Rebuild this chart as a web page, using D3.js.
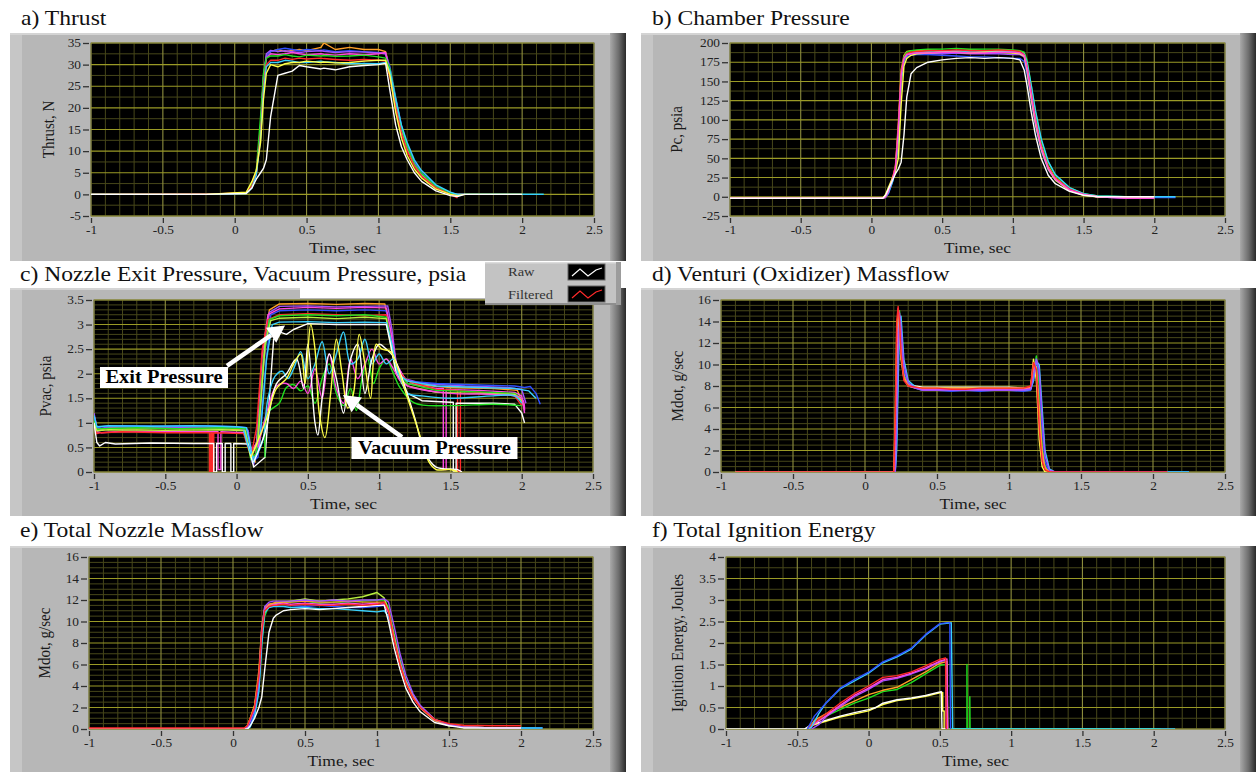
<!DOCTYPE html>
<html><head><meta charset="utf-8">
<script src="https://cdn.jsdelivr.net/npm/d3@7/dist/d3.min.js"></script>
<style>
html,body{margin:0;padding:0;background:#fff;}
svg{display:block;}
text{font-family:"Liberation Serif","Times New Roman",Times,serif;}
</style></head><body>
<svg id="chart" width="1256" height="772"></svg>
<script>
// ---------- shared axis data ----------
const timeTicks = [-1, -0.5, 0, 0.5, 1, 1.5, 2, 2.5];
const timeTickLabels = ["-1", "-0.5", "0", "0.5", "1", "1.5", "2", "2.5"];
const palette = {white:"#ffffff", red:"#ff2a2a", green:"#20e020", blue:"#3050ff", yellow:"#ffff4a",
  cyan:"#38d0ff", magenta:"#ff48e0", orange:"#ffa028", purple:"#a050ff", lime:"#b8f040"};

// ---------- a) Thrust ----------
const thrustTicks = [-5, 0, 5, 10, 15, 20, 25, 30, 35];
const thrustTickLabels = ["-5", "0", "5", "10", "15", "20", "25", "30", "35"];
const thrustTime = [-1,-0.2,0.08,0.12,0.15,0.18,0.2,0.22,0.25,0.3,0.35,0.4,0.45,0.5,0.6,0.62,0.7,0.8,0.9,1.0,1.05,1.08,1.12,1.16,1.2,1.25,1.3,1.4,1.5,1.55,1.6,2.0,2.15];
const thrustOrange = [0,0,0.4,2.5,5,15,27,32,33,33.5,33,33.3,33.5,33.2,34,35,33.5,34,33.5,33.5,33,29,22,15.5,11,7,4.6,1.7,0.2,0,0,null,null];
const thrustBlue = [0,0,0.3,2,5,16,27,32,33,33.5,33.8,33.5,33.2,33.5,33.3,33.4,33,33.2,33,32.8,32.5,29.5,22.5,16,11.5,7.5,5,2,0.4,0,0,0,0];
const thrustPurple = [0,0,0.3,2,4.8,15,27,32.5,33.3,33,33.2,33,32.8,33,33.2,33.1,32.8,33,32.9,32.7,32.5,28.5,21.5,15,10.8,7,4.5,1.7,0.2,0,0,null,null];
const thrustMagenta = [0,0,0.3,2,5,15,26,31.5,32.5,32.3,32.5,32.8,32.5,32.3,32.5,32.4,32.2,32.5,32.3,32.5,32.8,28,21,15,10.5,7,4.5,1.6,0.2,0,0,null,null];
const thrustGreen = [0,0,0.3,2.5,5.5,18,28,31.5,32,32,32.3,32,31.8,32.2,32,32.1,31.9,32,32.2,31.8,31.5,29,22,15.5,11,7,4.8,1.8,0.3,0,0,0,0];
const thrustRed = [0,0.1,0.3,2,5,14,25,30,31,31,31.5,31.2,31.5,31.3,31.5,31.4,31.2,31,31.2,31,30.8,27,20,14,10,6.5,4.2,1.5,0,-0.8,null,null,null];
const thrustCyan = [0,0,0.2,1.5,4.5,13,24,29.5,30.5,30.5,31,30.8,30.5,30.5,30.8,30.7,30.5,30.2,30.3,30.2,30.5,28.5,22,16,12,8,5.5,2.2,0.5,0,0,0,0];
const thrustYellow = [0,0,0.5,3,5.5,12,22,28,30,29.5,30.2,30.5,30.5,30.8,30.5,30.6,30.4,30.5,30.8,31,31,27.5,19,13,9,5.8,3.8,1.2,0,-0.3,0,0,null];
const thrustWhite = [0,0,0.2,1.5,3.5,5,6,8,18,27.5,28,28.5,29.8,29.5,29,29.2,28.8,29.5,29.8,30,30.3,24,16,11,8,5,3,0.8,-0.3,-0.5,0,0,null];

// ---------- b) Chamber Pressure ----------
const chamberTicks = [-25, 0, 25, 50, 75, 100, 125, 150, 175, 200];
const chamberTickLabels = ["-25", "0", "25", "50", "75", "100", "125", "150", "175", "200"];
const chamberTime = [-1,0.08,0.1,0.12,0.15,0.17,0.19,0.21,0.23,0.25,0.28,0.32,0.4,0.5,0.6,0.7,0.8,0.9,1.0,1.05,1.08,1.1,1.13,1.16,1.2,1.25,1.3,1.4,1.5,1.6,1.8,2.0,2.15];
const chamberBlue = [-2,-2,-1,4,20,35,80,150,176,182,184,185,185,184,183,182,182,181,180,180,176,160,125,92,60,35,22,9,3,0,-1,-1,-1];
const chamberPurple = [-2,-2,0,6,22,36,82,155,178,184,186,187,187,186,187,186,186,186,185,185,182,166,130,96,63,37,23,9,3,0,-2,-2,null];
const chamberOrange = [-2,-2,1,8,24,40,95,165,184,189,190,190,191,190,190,191,190,190,190,189,187,172,138,104,68,40,25,10,3,0,0,0,null];
const chamberGreen = [-2,-2,0,6,22,38,85,155,182,188,190,191,192,192,193,192,192,192,191,190,188,178,145,110,74,45,28,12,4,1,0,0,null];
const chamberCyan = [-2,-2,0,5,20,35,75,150,178,185,187,188,189,189,190,189,189,189,189,188,186,175,145,112,76,46,29,12,4,1,0,0,0];
const chamberRed = [-2,-2,0,8,25,40,90,160,180,186,188,189,190,190,191,190,190,191,190,189,185,170,135,100,65,38,24,10,3,0,0,0,null];
const chamberYellow = [-2,-2,3,12,25,33,50,120,170,180,184,186,187,188,188,187,188,188,187,186,183,165,128,95,62,36,22,8,2,0,0,0,null];
const chamberMagenta = [-2,-2,0,7,23,38,88,158,180,185,186,187,187,188,188,187,187,188,188,187,184,168,132,98,64,37,23,9,3,0,-2,-2,null];
const chamberWhite = [-2,-2,2,10,22,30,36,45,80,130,160,168,175,178,180,181,180,181,180,178,165,145,110,80,50,28,17,7,2,0,0,0,null];

// ---------- c) Nozzle exit / vacuum pressure ----------
const nozzleTicks = [0, 0.5, 1, 1.5, 2, 2.5, 3, 3.5];
const nozzleTickLabels = ["0", "0.5", "1", "1.5", "2", "2.5", "3", "3.5"];
const exitOrange = [[-1,1.15],[-0.98,0.9],[-0.95,0.86],[-0.9,0.9],[-0.7,0.88],[-0.4,0.9],[-0.1,0.88],[0.05,0.86],[0.1,0.5],[0.13,0.2],[0.17,1.5],[0.2,2.7],[0.23,3.3],[0.3,3.42],[0.5,3.43],[0.7,3.41],[0.9,3.43],[1.04,3.42],[1.07,3.0],[1.1,2.3],[1.15,1.95],[1.25,1.78],[1.5,1.72],[1.8,1.7],[1.97,1.66],[2.02,1.3]];
const exitPurple = [[-1,1.2],[-0.98,0.92],[-0.95,0.88],[-0.9,0.92],[-0.6,0.9],[-0.3,0.91],[0,0.9],[0.08,0.85],[0.12,0.15],[0.15,0.6],[0.19,2.2],[0.23,3.25],[0.3,3.37],[0.5,3.38],[0.7,3.36],[0.9,3.37],[1.06,3.38],[1.09,2.9],[1.12,2.2],[1.18,1.9],[1.3,1.8],[1.6,1.75],[1.9,1.72],[2.0,1.68],[2.03,1.4]];
const exitBlue = [[-1,1.1],[-0.98,0.9],[-0.95,0.92],[-0.8,0.94],[-0.5,0.93],[-0.2,0.94],[0,0.92],[0.07,0.9],[0.11,0.2],[0.15,0.3],[0.2,2.0],[0.24,3.2],[0.3,3.28],[0.5,3.3],[0.7,3.28],[0.9,3.3],[1.05,3.28],[1.08,2.8],[1.12,2.1],[1.2,1.85],[1.4,1.8],[1.7,1.77],[1.95,1.75],[2.02,1.72],[2.06,1.74],[2.1,1.6],[2.13,1.38]];
const exitMagenta = [[-1,1.0],[-0.98,0.82],[-0.95,0.8],[-0.8,0.83],[-0.5,0.82],[-0.13,0.82],[-0.13,0.05],[-0.11,0.05],[-0.11,0.82],[0.05,0.8],[0.1,0.4],[0.14,0.6],[0.18,2.4],[0.22,3.2],[0.3,3.32],[0.5,3.35],[0.7,3.33],[0.9,3.35],[1.05,3.34],[1.08,2.9],[1.12,2.2],[1.2,1.8],[1.4,1.7],[1.45,1.7],[1.45,0.05],[1.47,0.05],[1.47,1.68],[1.7,1.66],[1.95,1.62],[2.0,1.55],[2.02,1.2]];
const exitRed = [[-1,0.95],[-0.98,0.78],[-0.95,0.8],[-0.8,0.82],[-0.5,0.8],[-0.19,0.8],[-0.19,0],[-0.18,0],[-0.18,0.8],[-0.17,0.8],[-0.17,0],[-0.16,0],[-0.16,0.8],[0.05,0.78],[0.1,0.3],[0.14,0.9],[0.18,2.5],[0.22,3.1],[0.3,3.2],[0.5,3.22],[0.7,3.2],[0.9,3.18],[1.05,3.2],[1.08,2.7],[1.12,2.1],[1.2,1.85],[1.4,1.68],[1.55,1.66],[1.55,0.02],[1.57,0.02],[1.57,1.65],[1.8,1.6],[1.95,1.55],[2.0,1.35]];
const exitGreen = [[-1,1.05],[-0.98,0.86],[-0.95,0.88],[-0.7,0.9],[-0.4,0.88],[-0.1,0.9],[0.06,0.88],[0.1,0.25],[0.14,0.4],[0.19,2.3],[0.23,3.1],[0.3,3.18],[0.5,3.2],[0.7,3.18],[0.9,3.2],[1.05,3.15],[1.08,2.7],[1.12,2.05],[1.2,1.8],[1.4,1.66],[1.7,1.63],[1.95,1.6],[2.0,1.5]];
const exitLime = [[-1,1.0],[-0.98,0.84],[-0.9,0.86],[-0.5,0.85],[-0.1,0.86],[0.06,0.84],[0.1,0.3],[0.15,0.6],[0.2,2.6],[0.24,3.08],[0.3,3.13],[0.5,3.15],[0.7,3.12],[0.9,3.15],[1.05,3.12],[1.08,2.6],[1.12,2.0],[1.2,1.75],[1.4,1.62],[1.7,1.6],[1.95,1.58],[2.0,1.45]];
const exitCyan = [[-1,1.15],[-0.98,0.92],[-0.9,0.94],[-0.6,0.93],[-0.3,0.94],[0,0.92],[0.07,0.9],[0.12,0.2],[0.16,0.5],[0.21,2.3],[0.25,3.0],[0.3,3.05],[0.5,3.06],[0.7,3.04],[0.9,3.05],[1.05,3.04],[1.09,2.6],[1.13,2.0],[1.2,1.85],[1.4,1.75],[1.7,1.72],[1.95,1.7],[2.05,1.65],[2.1,1.5]];
const exitWhite = [[-1,1.0],[-0.98,0.6],[-0.96,0.53],[-0.92,0.6],[-0.85,0.57],[-0.6,0.59],[-0.3,0.58],[-0.16,0.58],[-0.16,0],[-0.14,0],[-0.14,0.58],[-0.1,0.58],[-0.1,0],[-0.08,0],[-0.08,0.58],[-0.04,0.58],[-0.04,0],[-0.02,0],[-0.02,0.58],[0.08,0.57],[0.12,0.1],[0.2,0.3],[0.23,1.5],[0.26,2.7],[0.3,2.85],[0.35,2.8],[0.4,2.9],[0.5,3.02],[0.7,3.0],[0.9,3.0],[1.05,3.0],[1.08,2.6],[1.12,2.0],[1.2,1.6],[1.3,1.45],[1.5,1.42],[1.52,1.42],[1.52,0.02],[1.54,0.02],[1.54,1.4],[1.8,1.4],[1.95,1.38],[2.0,1.2],[2.02,1.0]];
const vacGreen = [[0.2,0.3],[0.22,1.2],[0.3,1.4],[0.35,1.72],[0.4,1.78],[0.45,1.65],[0.5,1.75],[0.55,1.4],[0.6,1.9],[0.65,2.2],[0.7,1.6],[0.75,1.35],[0.8,1.7],[0.84,1.25],[0.88,1.9],[0.92,2.3],[0.96,1.8],[1.0,2.1],[1.05,2.3],[1.1,2.0],[1.15,1.7],[1.25,1.4],[1.5,1.35],[1.8,1.38],[2.0,1.35]];
const vacMagenta = [[0.15,0.5],[0.22,1.3],[0.28,1.75],[0.35,1.8],[0.4,1.7],[0.45,1.85],[0.5,1.6],[0.55,2.1],[0.6,1.5],[0.65,2.4],[0.7,1.7],[0.75,1.4],[0.8,2.3],[0.85,1.9],[0.9,2.2],[0.95,2.5],[1.0,2.2],[1.05,2.3],[1.1,2.1],[1.15,1.85],[1.2,1.75],[1.5,1.6],[1.8,1.58],[2.0,1.5],[2.02,1.25]];
const vacCyan = [[0.05,0.85],[0.12,0.3],[0.18,0.6],[0.22,1.5],[0.27,1.95],[0.32,2.05],[0.36,1.9],[0.4,2.1],[0.45,2.45],[0.5,1.9],[0.55,2.2],[0.6,2.65],[0.65,2.0],[0.7,2.4],[0.75,2.85],[0.8,2.2],[0.85,2.3],[0.9,2.7],[0.95,2.2],[1.0,2.4],[1.05,2.2],[1.1,2.3],[1.15,1.9],[1.2,1.6],[1.3,1.55],[1.5,1.5],[1.8,1.55],[1.95,1.55],[2.0,1.4]];
const vacWhite = [[0.12,0.2],[0.2,0.8],[0.28,1.8],[0.35,2.0],[0.42,2.3],[0.47,1.7],[0.5,2.6],[0.55,1.0],[0.57,0.75],[0.6,1.5],[0.65,2.4],[0.7,1.9],[0.75,1.2],[0.8,2.3],[0.85,2.6],[0.9,1.6],[0.95,2.3],[1.0,2.6],[1.05,2.5],[1.1,2.35],[1.15,2.0],[1.25,1.1],[1.32,0.4],[1.4,0.1],[1.55,0.05],[1.58,0]];
const vacYellow = [[0.1,0.3],[0.2,1.0],[0.28,1.7],[0.35,1.9],[0.4,2.2],[0.45,2.4],[0.48,1.8],[0.52,3.0],[0.55,2.5],[0.58,1.2],[0.62,0.7],[0.66,1.6],[0.7,2.7],[0.74,2.0],[0.78,1.3],[0.82,1.6],[0.86,2.8],[0.9,2.2],[0.94,1.5],[0.98,2.6],[1.02,2.5],[1.08,2.45],[1.12,2.2],[1.2,1.5],[1.28,0.8],[1.35,0.2],[1.4,0.05],[1.5,0.05],[1.55,0]];

// ---------- d) Venturi massflow ----------
const massTicks = [0, 2, 4, 6, 8, 10, 12, 14, 16];
const massTickLabels = ["0", "2", "4", "6", "8", "10", "12", "14", "16"];
const venturiTime = [-0.9,0.2,0.21,0.22,0.23,0.24,0.25,0.27,0.3,0.35,0.4,0.5,0.6,0.7,0.8,0.9,1.0,1.1,1.15,1.17,1.19,1.21,1.23,1.25,1.28,1.32,2.1,2.25];
const venturiWhite = [0,0,2,8,14,13.5,11,9,8.2,8,7.9,7.9,7.9,7.9,7.9,7.9,7.9,7.8,7.9,9.5,9.8,5,1.5,0.5,0,0,null,null];
const venturiGreen = [null,0,0,6,13,15,12.5,9,8,7.8,7.6,7.7,7.6,7.6,7.7,7.6,7.6,7.6,7.7,9,10.8,8,2.5,0.5,0,0,0,null];
const venturiBlue = [null,0,0,3,10,14.5,13,9.5,8.2,7.8,7.6,7.6,7.5,7.6,7.5,7.6,7.6,7.5,7.6,8.5,10.5,9,4,1,0,0,0,0];
const venturiYellow = [null,0,1,9,15,13,10.5,8.7,8,7.9,7.8,7.8,7.8,7.8,7.8,7.8,7.8,7.7,7.8,10.5,8.5,3,0.5,0,0,0,null,null];
const venturiCyan = [null,0,0,2,8,14,14.5,10.5,8.5,7.9,7.7,7.7,7.6,7.6,7.6,7.7,7.6,7.6,7.7,8.5,10.3,10,6,2,0.3,0,0,0];
const venturiMagenta = [null,0,3,11,15.2,14.5,11.5,8.8,8,7.8,7.7,7.7,7.7,7.7,7.7,7.7,7.7,7.7,7.8,9.8,9.5,5,1.5,0.3,0,0,null,null];
const venturiOrange = [null,0,6,13,15,13.8,11,8.8,8.1,7.9,7.8,7.8,7.8,7.8,7.8,7.8,7.8,7.8,7.9,10,9.7,6,2,0.4,0,0,null,null];
const venturiPurple = [null,0,0,4,11,14.8,13.5,10,8.3,7.8,7.6,7.6,7.6,7.6,7.6,7.6,7.6,7.6,7.7,8.8,10.5,9.5,5,1.5,0.2,0,0,null];
const venturiRed = [0,0,5,14,15.4,14,11,8.5,8,7.9,7.8,7.8,7.7,7.7,7.8,7.8,7.8,7.8,8,10.2,9.5,4,1,0.2,0,0,0,null];

// ---------- e) Total nozzle massflow ----------
const nozzleFlowTime = [-1,0.08,0.1,0.12,0.15,0.18,0.2,0.22,0.25,0.28,0.3,0.35,0.4,0.5,0.6,0.7,0.8,0.9,1.0,1.05,1.08,1.12,1.16,1.2,1.25,1.3,1.4,1.5,1.6,1.8,2.0,2.1,2.15];
const flowGreen = [0,0,0.2,0.8,1.8,4,8,10.5,11.5,11.6,11.7,11.8,11.8,11.9,11.7,11.8,11.8,11.9,12,12,11.3,8.8,6.5,4.6,3.1,2.1,0.9,0.4,0.2,0.1,0.1,0.1,null];
const flowBlue = [0,0,0,0.4,1.5,4,8.5,11,11.6,11.7,11.7,11.6,11.5,11.4,11.5,11.4,11.3,11.3,11.4,11.5,11,8.5,6.3,4.5,3,2,0.8,0.3,0.2,0.1,0.1,0.1,0.1];
const flowLime = [0,0,0.3,1,2.2,5,9,11,11.5,11.6,11.7,11.8,11.9,12.1,11.9,12,12.1,12.3,12.7,12.2,11,8.5,6.2,4.4,3,2,0.8,0.3,0.2,0.1,0.1,null,null];
const flowCyan = [0,0,0,0.2,1.2,3.5,8,10.8,11.3,11.4,11.4,11.4,11.3,11.3,11.2,11.2,11.1,11,10.9,11,10.5,8.3,6.2,4.5,3.1,2.1,0.9,0.4,0.2,0.1,0.1,0.1,0.1];
const flowMagenta = [0,0,0.2,0.8,2,5,9.5,11.2,11.5,11.6,11.6,11.7,11.6,11.7,11.6,11.6,11.7,11.6,11.7,11.6,10.8,8.3,6,4.3,2.9,2,0.8,0.4,0.2,0.1,0.1,null,null];
const flowOrange = [0,0,0.3,1,2.2,5.5,9.5,11.3,11.6,11.7,11.8,11.8,11.8,11.9,11.8,11.8,11.9,11.8,11.8,11.8,11,8.4,6.1,4.4,3,2,0.8,0.4,0.2,0.1,0.1,null,null];
const flowPurple = [0,0,0.2,0.8,1.8,4.5,9,11.4,11.8,11.9,11.9,11.9,11.9,12,11.9,12,11.9,12,12,12.1,11.8,9.5,7,5,3.3,2.2,0.9,0.4,0.2,0.1,0.1,null,null];
const flowWhite = [0,0,0,0.3,1,2,3,5.5,9,10.3,10.6,11,11.1,11.2,11.1,11.2,11.3,11.4,11.5,11.5,10,7.5,5.5,3.8,2.5,1.6,0.6,0.3,0.1,0.1,0.1,null,null];
const flowRed = [0.1,0.1,0.3,1,2,5,9,11,11.4,11.5,11.5,11.6,11.5,11.6,11.5,11.5,11.6,11.5,11.6,11.8,11,8.2,6,4.3,2.9,2,0.9,0.5,0.35,0.3,0.3,null,null];

// ---------- f) Total ignition energy ----------
const energyTicks = [0, 0.5, 1, 1.5, 2, 2.5, 3, 3.5, 4];
const energyTickLabels = ["0", "0.5", "1", "1.5", "2", "2.5", "3", "3.5", "4"];
const energyWhite = [[-1,0],[-0.45,0],[-0.4,0.1],[-0.3,0.2],[-0.2,0.3],[-0.1,0.38],[0,0.45],[0.05,0.5],[0.1,0.6],[0.2,0.68],[0.3,0.72],[0.4,0.78],[0.5,0.86],[0.51,0.87],[0.515,0],[2.0,0]];
const energyYellow = [[-0.44,0],[-0.4,0.08],[-0.3,0.18],[-0.2,0.28],[0,0.42],[0.1,0.57],[0.2,0.66],[0.3,0.7],[0.4,0.76],[0.5,0.84],[0.52,0.85],[0.52,0.42],[0.53,0.42],[0.53,0]];
const energyGreen = [[-0.42,0],[-0.38,0.15],[-0.3,0.3],[-0.2,0.45],[-0.1,0.6],[0,0.72],[0.1,0.87],[0.2,0.92],[0.3,1.08],[0.4,1.28],[0.5,1.48],[0.55,1.5],[0.555,0],[0.69,0],[0.69,1.5],[0.692,0],[0.71,0],[0.71,0.75],[0.712,0],[2.05,0]];
const energyOrange = [[-0.42,0],[-0.38,0.2],[-0.3,0.35],[-0.2,0.5],[-0.1,0.65],[0,0.8],[0.1,0.9],[0.2,0.97],[0.3,1.15],[0.4,1.33],[0.5,1.53],[0.55,1.57],[0.555,0]];
const energyPurple = [[-0.4,0],[-0.35,0.1],[-0.3,0.28],[-0.2,0.52],[-0.1,0.75],[0,0.92],[0.1,1.12],[0.2,1.18],[0.3,1.28],[0.4,1.4],[0.5,1.56],[0.54,1.6],[0.545,0]];
const energyMagenta = [[-0.42,0],[-0.38,0.12],[-0.3,0.3],[-0.2,0.55],[-0.1,0.78],[0,0.95],[0.1,1.15],[0.2,1.2],[0.3,1.3],[0.4,1.42],[0.5,1.58],[0.55,1.63],[0.555,0]];
const energyRed = [[-0.43,0],[-0.38,0.15],[-0.3,0.35],[-0.2,0.6],[-0.1,0.82],[0,1.0],[0.1,1.2],[0.2,1.24],[0.3,1.33],[0.4,1.47],[0.5,1.62],[0.54,1.65],[0.545,0]];
const energyCyan = [[-0.42,0],[-0.4,0.05],[-0.35,0.35],[-0.3,0.6],[-0.2,0.93],[0,1.3],[0.1,1.54],[0.2,1.68],[0.3,1.86],[0.4,2.18],[0.5,2.44],[0.58,2.47],[0.585,1.25],[0.59,0],[2.15,0]];
const energyBlue = [[-0.43,0],[-0.38,0.3],[-0.3,0.6],[-0.2,0.95],[-0.1,1.15],[0,1.32],[0.1,1.56],[0.2,1.7],[0.3,1.88],[0.4,2.2],[0.5,2.45],[0.57,2.48],[0.575,0]];

// ---------- helpers ----------
const SX = 1.16;
const FONT = '"Liberation Serif","Times New Roman",Times,serif';
const svg = d3.select("#chart");
const defs = svg.append("defs");
const shade = defs.append("linearGradient").attr("id","shade").attr("x1","0").attr("x2","1").attr("y1","0").attr("y2","0");
shade.append("stop").attr("offset","0").attr("stop-color","#a9a9a9");
shade.append("stop").attr("offset","0.55").attr("stop-color","#6c6c6c");
shade.append("stop").attr("offset","1").attr("stop-color","#2a2a2a");

function stext(parent, x, y, str, size, o = {}) {
  return parent.append("text")
    .attr("transform", `translate(${x},${y}) scale(${o.sx || SX},1)` + (o.rotate ? ` rotate(${o.rotate})` : ""))
    .attr("text-anchor", o.anchor || "start")
    .attr("font-family", FONT)
    .attr("font-size", size)
    .attr("font-weight", o.bold ? "bold" : "normal")
    .attr("fill", o.fill || "#111")
    .text(str);
}
function stepsBetween(min, max, step) {
  const n = Math.round((max - min) / step);
  return d3.range(n + 1).map(i => +(min + i * step).toFixed(6));
}
const near = (a, list) => list.some(m => Math.abs(m - a) < 1e-6);

function drawPanel(p, idx) {
  const [fx0, fy0, fx1, fy1] = p.frame;
  const [px0, py0, px1, py1] = p.plot;
  const g = svg.append("g");
  g.append("rect").attr("x", fx1).attr("y", fy0).attr("width", 16).attr("height", fy1 - fy0).attr("fill", "url(#shade)");
  g.append("rect").attr("x", fx0).attr("y", fy0).attr("width", fx1 - fx0).attr("height", fy1 - fy0).attr("fill", "#b7b7b7");
  g.append("rect").attr("x", fx0).attr("y", fy0).attr("width", 12).attr("height", fy1 - fy0).attr("fill", "#c6c6c6");
  g.append("rect").attr("x", fx0).attr("y", fy0).attr("width", fx1 - fx0).attr("height", 2).attr("fill", "#d4d4d4");

  const x = d3.scaleLinear().domain([-1, 2.5]).range([px0, px1]);
  const y = d3.scaleLinear().domain(p.yDomain).range([py1, py0]);

  g.append("rect").attr("x", px0).attr("y", py0).attr("width", px1 - px0).attr("height", py1 - py0)
    .attr("fill", "#000").attr("stroke", "#5a5a5a").attr("stroke-width", 1);

  const xMinor = stepsBetween(-1, 2.5, 0.1).filter(v => !near(v, timeTicks));
  const yMinor = stepsBetween(p.yDomain[0], p.yDomain[1], p.yMinor).filter(v => !near(v, p.yTicks));
  const grid = g.append("g");
  grid.selectAll(".vm").data(xMinor).join("line").attr("x1", d => x(d)).attr("x2", d => x(d)).attr("y1", py0).attr("y2", py1).attr("stroke", "#47471a").attr("stroke-width", 1);
  grid.selectAll(".hm").data(yMinor).join("line").attr("y1", d => y(d)).attr("y2", d => y(d)).attr("x1", px0).attr("x2", px1).attr("stroke", "#47471a").attr("stroke-width", 1);
  grid.selectAll(".vM").data(timeTicks).join("line").attr("x1", d => x(d)).attr("x2", d => x(d)).attr("y1", py0).attr("y2", py1).attr("stroke", "#8e8e3e").attr("stroke-width", 1.1);
  grid.selectAll(".hM").data(p.yTicks).join("line").attr("y1", d => y(d)).attr("y2", d => y(d)).attr("x1", px0).attr("x2", px1).attr("stroke", "#9a9a26").attr("stroke-width", 1.1);

  // series
  defs.append("clipPath").attr("id", "clip" + idx).append("rect")
    .attr("x", px0).attr("y", py0).attr("width", px1 - px0).attr("height", py1 - py0);
  const linear = d3.line().defined(d => d[1] != null).x(d => x(d[0])).y(d => y(d[1]));
  const smooth = d3.line().defined(d => d[1] != null).x(d => x(d[0])).y(d => y(d[1])).curve(d3.curveCatmullRom.alpha(0.5));
  const sg = g.append("g").attr("clip-path", `url(#clip${idx})`);
  const runs = p.runs.map(([c, vals, sm]) => [c, p.time ? p.time.map((t, i) => [t, vals[i]]) : vals, sm]);
  sg.selectAll("path").data(runs).join("path")
    .attr("d", d => (d[2] ? smooth : linear)(d[1])).attr("fill", "none").attr("stroke", d => palette[d[0]])
    .attr("stroke-width", 1.4).attr("stroke-linejoin", "round");

  // axes
  const xAxis = d3.axisBottom(x).tickValues(timeTicks).tickSize(5).tickPadding(3)
    .tickFormat((d, i) => timeTickLabels[i]);
  const xg = g.append("g").attr("transform", `translate(0,${py1 + 2})`).call(xAxis);
  const yAxis = d3.axisLeft(y).tickValues(p.yTicks).tickSize(6).tickPadding(2)
    .tickFormat((d, i) => p.yLabels[i]);
  const yg = g.append("g").attr("transform", `translate(${px0 - 2},0)`).call(yAxis);
  [xg, yg].forEach(a => {
    a.attr("font-family", FONT);
    a.select(".domain").remove();
    a.selectAll(".tick line").attr("stroke", "#333").attr("stroke-width", 1.3);
    a.selectAll(".tick text").attr("font-size", 11.5).attr("fill", "#222").attr("font-family", FONT);
  });
  xg.selectAll(".tick text").attr("transform", `scale(${SX},1)`);
  yg.selectAll(".tick text").each(function () {
    const t = d3.select(this); const xx = +t.attr("x");
    t.attr("x", null).attr("transform", `translate(${xx},0) scale(${SX},1)`);
  });

  stext(g, (px0 + px1) / 2, py1 + 37, "Time, sec", 15, {anchor: "middle", fill: "#1a1a1a"});
  stext(g, p.lx, (py0 + py1) / 2, p.ylabel, 15, {anchor: "middle", rotate: -90, fill: "#1a1a1a"});

  // title
  if (p.titleBg) svg.append("rect").attr("x", p.titleBg[0]).attr("y", p.titleBg[1]).attr("width", p.titleBg[2]).attr("height", p.titleBg[3]).attr("fill", "#fff");
  stext(svg, p.tx, p.ty, p.title, 20, {sx: 1.18, fill: "#111"});
  return {x, y, g};
}

// ---------- panels ----------
const panels = [
  {title: "a) Thrust", tx: 21, ty: 25, frame: [10, 33, 610, 261], plot: [91, 43, 594, 216],
   yDomain: [-5, 35], yTicks: thrustTicks, yLabels: thrustTickLabels, yMinor: 2.5, ylabel: "Thrust, N", lx: 54,
   time: thrustTime,
   runs: [["orange", thrustOrange], ["blue", thrustBlue], ["purple", thrustPurple], ["magenta", thrustMagenta], ["green", thrustGreen],
          ["red", thrustRed], ["cyan", thrustCyan], ["yellow", thrustYellow], ["white", thrustWhite]]},
  {title: "b) Chamber Pressure", tx: 652, ty: 25, frame: [641, 33, 1240, 261], plot: [730, 43, 1225, 216],
   yDomain: [-25, 200], yTicks: chamberTicks, yLabels: chamberTickLabels, yMinor: 12.5, ylabel: "Pc, psia", lx: 682,
   time: chamberTime,
   runs: [["blue", chamberBlue], ["purple", chamberPurple], ["orange", chamberOrange], ["green", chamberGreen], ["cyan", chamberCyan],
          ["red", chamberRed], ["yellow", chamberYellow], ["magenta", chamberMagenta], ["white", chamberWhite]]},
  {title: "c) Nozzle Exit Pressure, Vacuum Pressure, psia", tx: 20, ty: 281, frame: [10, 288, 610, 516], plot: [94, 300, 593, 472],
   yDomain: [0, 3.5], yTicks: nozzleTicks, yLabels: nozzleTickLabels, yMinor: 0.1, ylabel: "Pvac, psia", lx: 51,
   titleBg: [300, 284, 186, 14],
   runs: [["orange", exitOrange], ["purple", exitPurple], ["blue", exitBlue], ["magenta", exitMagenta], ["red", exitRed],
          ["green", exitGreen], ["lime", exitLime], ["cyan", exitCyan], ["white", exitWhite],
          ["green", vacGreen, true], ["magenta", vacMagenta, true], ["cyan", vacCyan, true], ["white", vacWhite, true], ["yellow", vacYellow, true]]},
  {title: "d) Venturi (Oxidizer) Massflow", tx: 652, ty: 281, frame: [641, 288, 1240, 516], plot: [721, 300, 1225, 472],
   yDomain: [0, 16], yTicks: massTicks, yLabels: massTickLabels, yMinor: 0.5, ylabel: "Mdot, g/sec", lx: 683,
   time: venturiTime,
   runs: [["white", venturiWhite], ["green", venturiGreen], ["blue", venturiBlue], ["yellow", venturiYellow], ["cyan", venturiCyan],
          ["magenta", venturiMagenta], ["orange", venturiOrange], ["purple", venturiPurple], ["red", venturiRed]]},
  {title: "e) Total Nozzle Massflow", tx: 20, ty: 537, frame: [10, 546, 610, 775], plot: [89, 557, 593, 729],
   yDomain: [0, 16], yTicks: massTicks, yLabels: massTickLabels, yMinor: 0.5, ylabel: "Mdot, g/sec", lx: 50,
   time: nozzleFlowTime,
   runs: [["green", flowGreen], ["blue", flowBlue], ["lime", flowLime], ["cyan", flowCyan], ["magenta", flowMagenta],
          ["orange", flowOrange], ["purple", flowPurple], ["white", flowWhite], ["red", flowRed]]},
  {title: "f) Total Ignition Energy", tx: 652, ty: 537, frame: [641, 546, 1240, 775], plot: [726, 557, 1225, 729],
   yDomain: [0, 4], yTicks: energyTicks, yLabels: energyTickLabels, yMinor: 0.25, ylabel: "Ignition Energy, Joules", lx: 683,
   runs: [["yellow", energyYellow], ["white", energyWhite], ["green", energyGreen], ["orange", energyOrange], ["purple", energyPurple],
          ["magenta", energyMagenta], ["red", energyRed], ["cyan", energyCyan], ["blue", energyBlue]]}
];

const drawn = panels.map((p, i) => drawPanel(p, i));

// ---------- panel c legend ----------
const lg = svg.append("g");
lg.append("rect").attr("x", 485).attr("y", 262).attr("width", 136).attr("height", 43).attr("fill", "#c3c3c3");
lg.append("rect").attr("x", 485).attr("y", 262).attr("width", 136).attr("height", 1.5).attr("fill", "#dcdcdc");
lg.append("rect").attr("x", 485).attr("y", 303).attr("width", 136).attr("height", 2).attr("fill", "#8e8e8e");
lg.append("rect").attr("x", 616).attr("y", 262).attr("width", 5).attr("height", 43).attr("fill", "#9c9c9c");
stext(lg, 508, 276, "Raw", 12.5, {fill: "#333"});
stext(lg, 508, 299, "Filtered", 12.5, {fill: "#333"});
[[264, "#ffffff"], [286, "#ff2a2a"]].forEach(([yy, col]) => {
  lg.append("rect").attr("x", 568).attr("y", yy).attr("width", 37).attr("height", 16).attr("fill", "#000").attr("stroke", "#666");
  lg.append("polyline").attr("points", [[572, yy + 12], [580, yy + 5], [588, yy + 12], [596, yy + 6], [602, yy + 4]].map(q => q.join(",")).join(" "))
    .attr("fill", "none").attr("stroke", col).attr("stroke-width", 1.2);
});

// ---------- panel c annotations ----------
const cx = drawn[2].x, cy = drawn[2].y;
const notes = [
  {text: "Exit Pressure", center: [-0.509, 1.923], w: 128, h: 21, from: [-0.067, 2.16], tip: [0.34, 2.98]},
  {text: "Vacuum Pressure", center: [1.388, 0.488], w: 166, h: 22, from: [1.16, 0.71], tip: [0.746, 1.567]}
];
const ng = svg.append("g");
notes.forEach(n => {
  const [sx0, sy0] = [cx(n.from[0]), cy(n.from[1])];
  const [tx0, ty0] = [cx(n.tip[0]), cy(n.tip[1])];
  const dx = tx0 - sx0, dy = ty0 - sy0, L = Math.hypot(dx, dy), ux = dx / L, uy = dy / L;
  const bx = tx0 - ux * 17, by = ty0 - uy * 17;
  ng.append("line").attr("x1", sx0).attr("y1", sy0).attr("x2", bx).attr("y2", by).attr("stroke", "#fff").attr("stroke-width", 4.5);
  ng.append("polygon").attr("points", [[tx0, ty0], [bx - uy * 9, by + ux * 9], [bx + uy * 9, by - ux * 9]].map(q => q.join(",")).join(" ")).attr("fill", "#fff");
  const ccx = cx(n.center[0]), ccy = cy(n.center[1]);
  ng.append("rect").attr("x", ccx - n.w / 2).attr("y", ccy - n.h / 2).attr("width", n.w).attr("height", n.h).attr("fill", "#fff");
  stext(ng, ccx, ccy + 6, n.text, 18, {anchor: "middle", bold: true, fill: "#000", sx: 1.14});
});
</script>
</body></html>
